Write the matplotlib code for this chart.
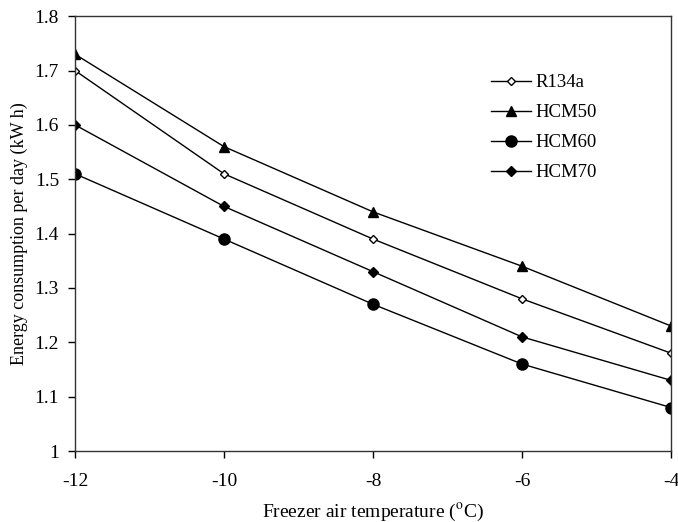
import matplotlib
matplotlib.use('Agg')
import matplotlib.pyplot as plt

# Freezer air temperature (C) and daily energy consumption (kW h)
temps = [-12, -10, -8, -6, -4]
r134a = [1.70, 1.51, 1.39, 1.28, 1.18]
hcm50 = [1.73, 1.56, 1.44, 1.34, 1.23]
hcm60 = [1.51, 1.39, 1.27, 1.16, 1.08]
hcm70 = [1.60, 1.45, 1.33, 1.21, 1.13]

plt.rcParams['font.family'] = ['Liberation Serif', 'DejaVu Serif']
plt.rcParams['mathtext.fontset'] = 'stix'

fig = plt.figure(figsize=(6.78, 5.22), dpi=100)
ax = fig.add_axes([0.1106, 0.136, 0.8791, 0.833])

ax.plot(temps, r134a, color='black', lw=1, marker='D', ms=4.5,
        mfc='white', mec='black', mew=1, label='R134a')
ax.plot(temps, hcm50, color='black', lw=1, marker='^', ms=7.5, label='HCM50')
ax.plot(temps, hcm60, color='black', lw=1, marker='o', ms=8, label='HCM60')
ax.plot(temps, hcm70, color='black', lw=1, marker='D', ms=5, label='HCM70')

ax.set_xlim(-12, -4)
ax.set_ylim(1.0, 1.8)
ax.set_xticks([-12, -10, -8, -6, -4])
ax.set_xticklabels(['-12', '-10', '-8', '-6', '-4'])
ax.set_yticks([1.0, 1.1, 1.2, 1.3, 1.4, 1.5, 1.6, 1.7, 1.8])
ax.set_yticklabels(['1', '1.1', '1.2', '1.3', '1.4', '1.5', '1.6', '1.7', '1.8'])
ax.tick_params(direction='out', length=5, width=1, labelsize=14)
ax.tick_params(axis='x', pad=11)
ax.tick_params(axis='y', pad=6.5)
for s in ax.spines.values():
    s.set_linewidth(1)
    s.set_color('#333333')

ax.set_xlabel(r'Freezer air temperature ($^{\mathrm{o}}$C)', fontsize=14, labelpad=8)
ax.set_ylabel('Energy consumption per day (kW h)', fontsize=13, labelpad=5)

ax.legend(loc='upper left', bbox_to_anchor=(0.67, 0.905), frameon=False,
          fontsize=13.5, handlelength=2.1, handletextpad=0.25, labelspacing=0.68)

fig.savefig('out.png', dpi=100)
